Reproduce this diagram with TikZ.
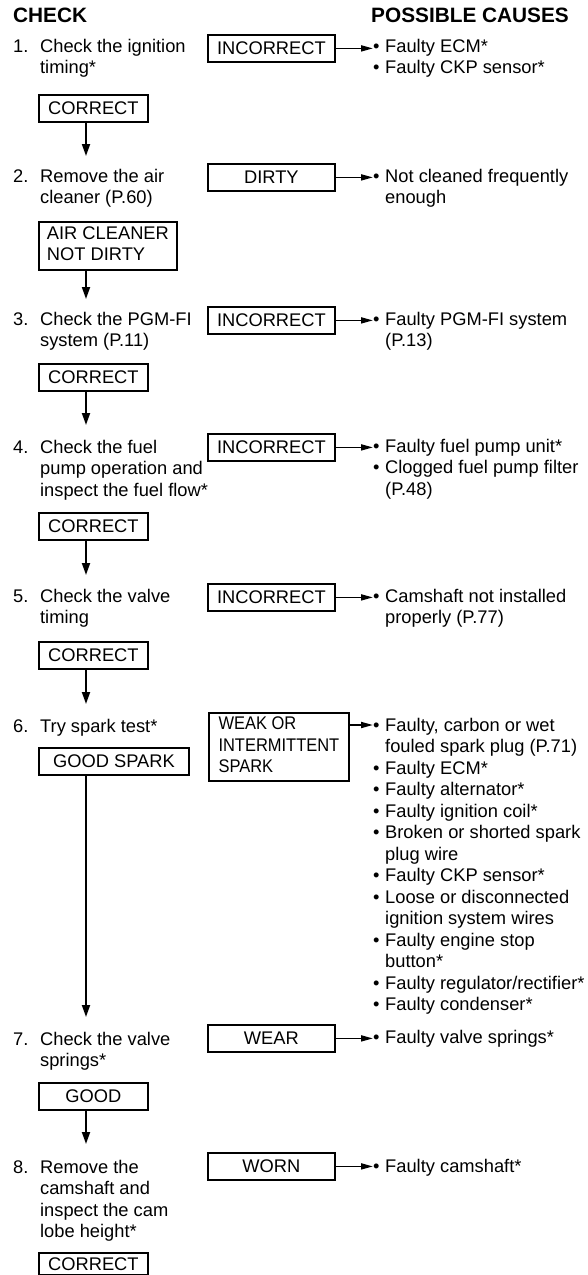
\documentclass[tikz,border=0pt]{standalone}
\usepackage{fontspec}
\usepackage{graphicx}
\setmainfont{Liberation Sans}
\usetikzlibrary{arrows.meta}
\newcommand{\Lns}[1]{\begin{tabular}[t]{@{}l@{}}#1\end{tabular}}
\newcommand{\Stp}[2]{\begin{tabular}[t]{@{}l@{\hspace{11.7pt}}l@{}}#1.&#2\end{tabular}}
\newcommand{\bul}{\makebox[12pt][l]{•}}
\newcommand{\ind}{\hspace*{12pt}}
\tikzset{
  hdr/.style={anchor=base west, inner sep=0pt, font=\fontsize{20.8}{24}\selectfont\bfseries},
  stept/.style={anchor=base west, inner sep=0pt},
  cause/.style={anchor=base west, inner sep=0pt},
  box/.style={draw, line width=1.8pt, inner sep=0pt, anchor=north west, minimum height=27pt},
  varr/.style={line width=1.8pt, -{Triangle[length=12pt,width=8pt]}},
  harr/.style={line width=1.8pt, -{Triangle[length=12pt,width=6pt]}},
}
\begin{document}
\begin{tikzpicture}[x=1pt,y=-1pt,font=\fontsize{18.3}{21.5}\selectfont]
\path[fill=white, use as bounding box] (0,0) rectangle (587,1275);

% headers
\node[hdr] (h1) at (13,22) {CHECK};
\node[hdr] (h2) at (371,22) {POSSIBLE CAUSES};

% step texts
\node[stept] (s1) at (13,52) {\Stp{1}{Check the ignition\\ & timing*}};
\node[stept] (s2) at (13,182) {\Stp{2}{Remove the air\\ & cleaner (P.60)}};
\node[stept] (s3) at (13,325) {\Stp{3}{Check the PGM-FI\\ & system (P.11)}};
\node[stept] (s4) at (13,453) {\Stp{4}{Check the fuel\\ & pump operation and\\ & inspect the fuel flow*}};
\node[stept] (s5) at (13,602) {\Stp{5}{Check the valve\\ & timing}};
\node[stept] (s6) at (13,732) {\Stp{6}{Try spark test*}};
\node[stept] (s7) at (13,1045) {\Stp{7}{Check the valve\\ & springs*}};
\node[stept] (s8) at (13,1173) {\Stp{8}{Remove the\\ & camshaft and\\ & inspect the cam\\ & lobe height*}};

% result boxes (left)
\node[box, minimum width=109pt] (k1) at (38,94) {CORRECT};
\node[box, minimum width=138pt, minimum height=48pt] (k2) at (38,221) {\Lns{AIR CLEANER\\NOT DIRTY}};
\node[box, minimum width=109pt] (k3) at (38,363) {CORRECT};
\node[box, minimum width=109pt] (k4) at (38,512) {CORRECT};
\node[box, minimum width=109pt] (k5) at (38,641) {CORRECT};
\node[box, minimum width=150pt] (k6) at (38,747) {GOOD SPARK};
\node[box, minimum width=109pt] (k7) at (38,1082) {GOOD};
\node[box, minimum width=109pt, minimum height=22pt] (k8) at (38,1252) {CORRECT};

% result boxes (right)
\node[box, minimum width=127pt] (b1) at (207,34) {INCORRECT};
\node[box, minimum width=127pt] (b2) at (207,163) {DIRTY};
\node[box, minimum width=127pt] (b3) at (207,306) {INCORRECT};
\node[box, minimum width=127pt] (b4) at (207,433) {INCORRECT};
\node[box, minimum width=127pt] (b5) at (207,583) {INCORRECT};
\node[box, minimum width=140pt, minimum height=68pt] (b6) at (208,712) {\scalebox{0.9}[1]{\Lns{WEAK OR\\INTERMITTENT\\SPARK}}};
\node[box, minimum width=127pt] (b7) at (207,1024) {WEAR};
\node[box, minimum width=127pt] (b8) at (207,1152) {WORN};

% causes
\node[cause] (c1) at (373,52) {\Lns{\bul Faulty ECM*\\ \bul Faulty CKP sensor*}};
\node[cause] (c2) at (373,182) {\Lns{\bul Not cleaned frequently\\ \ind enough}};
\node[cause] (c3) at (373,325) {\Lns{\bul Faulty PGM-FI system\\ \ind (P.13)}};
\node[cause] (c4) at (373,452) {\Lns{\bul Faulty fuel pump unit*\\ \bul Clogged fuel pump filter\\ \ind (P.48)}};
\node[cause] (c5) at (373,602) {\Lns{\bul Camshaft not installed\\ \ind properly (P.77)}};
\node[cause] (c6) at (373,731) {\Lns{\bul Faulty, carbon or wet\\ \ind fouled spark plug (P.71)\\ \bul Faulty ECM*\\ \bul Faulty alternator*\\ \bul Faulty ignition coil*\\ \bul Broken or shorted spark\\ \ind plug wire\\ \bul Faulty CKP sensor*\\ \bul Loose or disconnected\\ \ind ignition system wires\\ \bul Faulty engine stop\\ \ind button*\\ \bul Faulty regulator/rectifier*\\ \bul Faulty condenser*}};
\node[cause] (c7) at (373,1043) {\Lns{\bul Faulty valve springs*}};
\node[cause] (c8) at (373,1172) {\Lns{\bul Faulty camshaft*}};

% vertical arrow ends
\coordinate (t1) at (86,156);
\coordinate (t2) at (86,299);
\coordinate (t3) at (86,425);
\coordinate (t4) at (86,575);
\coordinate (t5) at (86,704);
\coordinate (t6) at (86,1017);
\coordinate (t7) at (86,1144);
\coordinate (a6) at (0,725);

\draw[varr] (k1.south -| t1) -- (t1);
\draw[varr] (k2.south -| t2) -- (t2);
\draw[varr] (k3.south -| t3) -- (t3);
\draw[varr] (k4.south -| t4) -- (t4);
\draw[varr] (k5.south -| t5) -- (t5);
\draw[varr] (k6.south -| t6) -- (t6);
\draw[varr] (k7.south -| t7) -- (t7);

% horizontal arrows
\draw[harr] (b1.east) -- (b1.east -| c1.west);
\draw[harr] (b2.east) -- (b2.east -| c2.west);
\draw[harr] (b3.east) -- (b3.east -| c3.west);
\draw[harr] (b4.east) -- (b4.east -| c4.west);
\draw[harr] (b5.east) -- (b5.east -| c5.west);
\draw[harr] (b6.east |- a6) -- (c6.west |- a6);
\draw[harr] (b7.east) -- (b7.east -| c7.west);
\draw[harr] (b8.east) -- (b8.east -| c8.west);
\end{tikzpicture}
\end{document}
